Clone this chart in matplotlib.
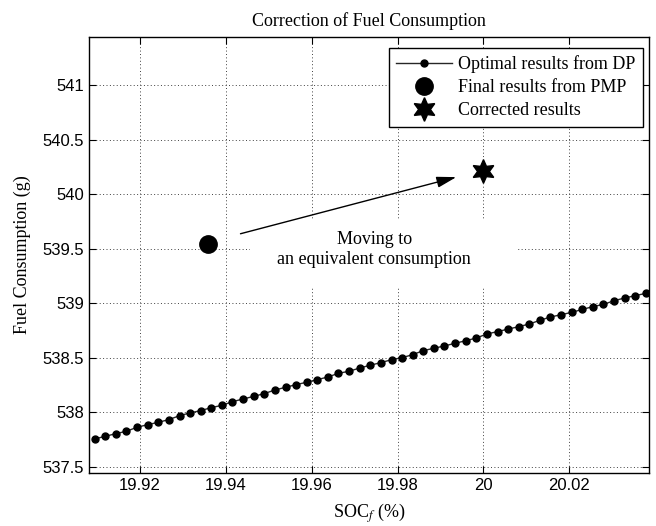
import matplotlib
matplotlib.use('Agg')
import matplotlib.pyplot as plt
from matplotlib.patches import Rectangle

# DP sweep (SOC_f in %, fuel in g)
soc_dp = [19.9094, 19.9119, 19.9143, 19.9168, 19.9193, 19.9218, 19.9242, 19.9267,
          19.9292, 19.9316, 19.9341, 19.9366, 19.9391, 19.9415, 19.9440, 19.9465,
          19.9489, 19.9514, 19.9539, 19.9563, 19.9588, 19.9613, 19.9638, 19.9662,
          19.9687, 19.9712, 19.9736, 19.9761, 19.9786, 19.9811, 19.9835, 19.9860,
          19.9885, 19.9909, 19.9934, 19.9959, 19.9984, 20.0008, 20.0033, 20.0058,
          20.0082, 20.0107, 20.0132, 20.0156, 20.0181, 20.0206, 20.0231, 20.0255,
          20.0280, 20.0305, 20.0329, 20.0354, 20.0379]
fuel_dp = [537.757, 537.781, 537.805, 537.827, 537.864, 537.888, 537.909, 537.934,
           537.970, 537.995, 538.016, 538.044, 538.065, 538.098, 538.123, 538.147,
           538.172, 538.205, 538.230, 538.254, 538.276, 538.300, 538.325, 538.358,
           538.377, 538.407, 538.432, 538.456, 538.483, 538.502, 538.529, 538.566,
           538.588, 538.609, 538.633, 538.657, 538.682, 538.719, 538.740, 538.764,
           538.785, 538.810, 538.844, 538.874, 538.895, 538.917, 538.944, 538.969,
           538.990, 539.024, 539.048, 539.070, 539.091]

soc_pmp, fuel_pmp = [19.9359], [539.546]
soc_corr, fuel_corr = [20.0], [540.21]

arrow_from = (19.9434, 539.637)
arrow_to = (19.9937, 540.156)
note_pos = (19.9746, 539.49)

xticks = [19.92, 19.94, 19.96, 19.98, 20.0, 20.02]
xtick_labels = ['19.92', '19.94', '19.96', '19.98', '20', '20.02']
yticks = [537.5, 538, 538.5, 539, 539.5, 540, 540.5, 541]
ytick_labels = ['537.5', '538', '538.5', '539', '539.5', '540', '540.5', '541']

serif = 'Liberation Serif'
sans = 'Liberation Sans'
plt.rcParams['mathtext.fontset'] = 'stix'

fig = plt.figure(figsize=(6.56, 5.26), dpi=100)
ax = fig.add_axes([0.1357, 0.1008, 0.8536, 0.8289])

ax.plot(soc_dp, fuel_dp, '-', color='0.15', lw=1, marker='o', ms=5,
        mfc='k', mec='k', label='Optimal results from DP', zorder=3)
ax.plot(soc_pmp, fuel_pmp, 'o', color='k', ms=12.5, ls='none',
        label='Final results from PMP', zorder=3)
ax.plot(soc_corr, fuel_corr, marker=(6, 1, 0), color='k', ms=17, ls='none',
        label='Corrected results', zorder=3)

ax.set_xlim(19.9081, 20.0386)
ax.set_ylim(537.445, 541.44)
ax.set_xticks(xticks)
ax.set_xticklabels(xtick_labels, fontsize=12, family=sans)
ax.set_yticks(yticks)
ax.set_yticklabels(ytick_labels, fontsize=12, family=sans)
ax.tick_params(direction='in', top=True, right=True, length=5, width=0.8)

ax.grid(True, color='0.25', linestyle=(0, (1, 2.5)), linewidth=0.7)
ax.set_axisbelow(True)
for s in ax.spines.values():
    s.set_linewidth(1.0)

# white box behind the annotation text (hides the grid like the original)
ax.add_patch(Rectangle((0.2875, 0.424), 0.4785, 0.156, transform=ax.transAxes,
                       facecolor='white', edgecolor='none', zorder=1.5))
ax.text(note_pos[0], note_pos[1], 'Moving to\nan equivalent consumption',
        ha='center', va='center', fontsize=13, family=serif, zorder=2,
        linespacing=1.25)
ax.annotate('', xy=arrow_to, xytext=arrow_from,
            arrowprops=dict(arrowstyle='-|>,head_length=1.0,head_width=0.28',
                            color='k', lw=1.0, mutation_scale=12,
                            shrinkA=0, shrinkB=0), zorder=4)

leg = ax.legend(loc='upper right', bbox_to_anchor=(0.989, 0.975),
                prop={'family': serif, 'size': 13},
                frameon=True, fancybox=False, edgecolor='k', framealpha=1,
                borderaxespad=0, handlelength=3.1, handletextpad=0.3,
                labelspacing=0.33, borderpad=0.42, markerscale=1.0)
leg.get_frame().set_linewidth(1.0)

ax.set_title('Correction of Fuel Consumption', fontsize=13, family=serif, pad=8)
ax.set_xlabel('SOC$_f$ (%)', fontsize=13, family=serif, labelpad=6)
ax.set_ylabel('Fuel Consumption (g)', fontsize=13, family=serif, labelpad=8)

fig.savefig('out.png', dpi=100)
